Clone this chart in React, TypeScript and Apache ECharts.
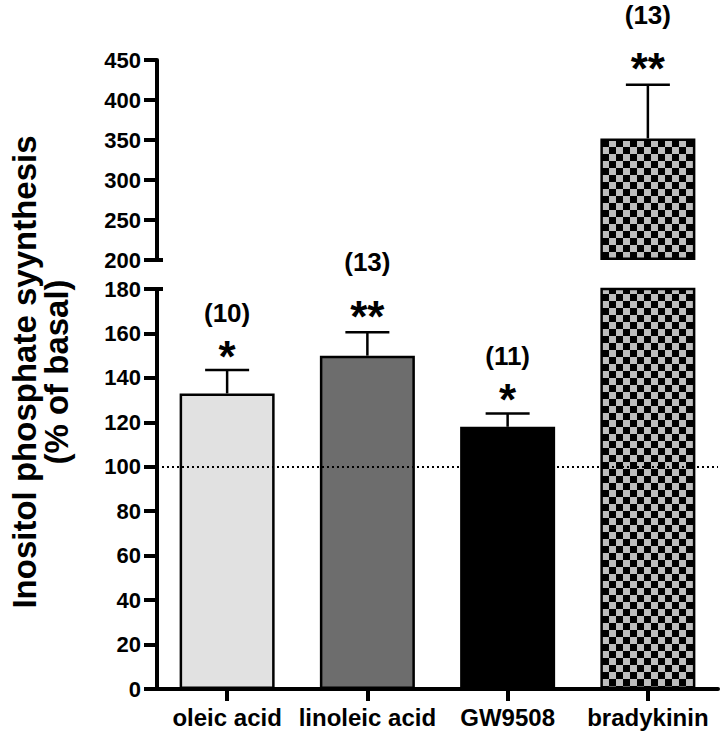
import React, { useEffect, useRef } from 'react';
import * as echarts from 'echarts';

const categories = ['oleic acid', 'linoleic acid', 'GW9508', 'bradykinin'];
const means = [133, 150, 118, 352];
const sems = [10.5, 10.5, 6, 67];
const nLabels = ['(10)', '(13)', '(11)', '(13)'];
const stars = ['*', '**', '*', '**'];
const lowerMin = 0;
const lowerMax = 180;
const lowerStep = 20;
const upperMin = 200;
const upperMax = 450;
const upperStep = 50;
const basal = 100;
const yTitle = 'Inositol phosphate syynthesis\n(% of basal)';

const FONT = '"Liberation Sans", Arial, Helvetica, sans-serif';

export default function App() {
  const ref = useRef<HTMLDivElement>(null);
  useEffect(() => {
    const chart = echarts.init(ref.current!, null, { renderer: 'svg' });
    const cv = document.createElement('canvas');
    cv.width = 14;
    cv.height = 14;
    const ctx = cv.getContext('2d')!;
    ctx.fillStyle = '#bdbdbd';
    ctx.fillRect(0, 0, 14, 14);
    ctx.fillStyle = '#000000';
    ctx.fillRect(0, 0, 7, 7);
    ctx.fillRect(7, 7, 7, 7);
    const checker: any = { image: cv, repeat: 'repeat' };
    const fills: any[] = ['#e1e1e1', '#6d6d6d', '#000000', checker];

    const barStyle = (i: number) => ({ color: fills[i], borderColor: '#000', borderWidth: 2.5 });

    const renderErr = (params: any, api: any) => {
      const i = api.value(0);
      const m = api.value(1);
      const e = api.value(2);
      const p0 = api.coord([i, m]);
      const p1 = api.coord([i, m + e]);
      const x = p0[0];
      const yTop = p1[1];
      const s = stars[i];
      const dbl = s.length > 1;
      return {
        type: 'group',
        children: [
          { type: 'line', shape: { x1: x, y1: p0[1], x2: x, y2: yTop }, style: { stroke: '#000', lineWidth: 2.5 } },
          { type: 'line', shape: { x1: x - 22, y1: yTop, x2: x + 22, y2: yTop }, style: { stroke: '#000', lineWidth: 2.5 } },
          {
            type: 'text', x, y: yTop - (dbl ? 16 : 14),
            style: { text: s, font: `bold 44px ${FONT}`, fill: '#000', align: 'center', verticalAlign: 'middle' },
          },
          {
            type: 'text', x, y: yTop - (dbl ? 70 : 57),
            style: { text: nLabels[i], font: `bold 26px ${FONT}`, fill: '#000', align: 'center', verticalAlign: 'middle' },
          },
        ],
      };
    };

    const axisCommon = {
      axisLine: { show: true, lineStyle: { color: '#000', width: 4 } },
      axisTick: { show: true, length: 13, lineStyle: { color: '#000', width: 4 } },
      axisLabel: { color: '#000', fontSize: 22, fontWeight: 'bold', fontFamily: FONT, margin: 16 },
      splitLine: { show: false },
    };

    chart.setOption({
      animation: false,
      backgroundColor: '#ffffff',
      grid: [
        { left: 157, width: 561, top: 289, height: 400 },
        { left: 157, width: 561, top: 60, height: 200 },
      ],
      xAxis: [
        {
          type: 'category', gridIndex: 0, data: categories,
          axisLine: { show: true, lineStyle: { color: '#000', width: 4 } },
          axisTick: { show: true, alignWithLabel: true, length: 12, lineStyle: { color: '#000', width: 4 } },
          axisLabel: { color: '#000', fontSize: 24, fontWeight: 'bold', fontFamily: FONT, margin: 16, interval: 0 },
        },
        { type: 'category', gridIndex: 1, data: categories, show: false },
      ],
      yAxis: [
        { type: 'value', gridIndex: 0, min: lowerMin, max: lowerMax, interval: lowerStep, ...axisCommon },
        { type: 'value', gridIndex: 1, min: upperMin, max: upperMax, interval: upperStep, ...axisCommon },
      ],
      series: [
        {
          type: 'line', xAxisIndex: 0, yAxisIndex: 0, data: [], z: 1,
          markLine: {
            silent: true, symbol: ['none', 'none'], label: { show: false },
            lineStyle: { color: '#000', width: 2, type: [2, 3] },
            data: [{ yAxis: basal }],
          },
        },
        {
          type: 'bar', xAxisIndex: 0, yAxisIndex: 0, barWidth: 95, z: 2,
          data: means.map((v, i) => ({ value: v, itemStyle: barStyle(i) })),
        },
        {
          type: 'bar', xAxisIndex: 1, yAxisIndex: 1, barWidth: 95, stack: 'up', z: 2,
          itemStyle: { color: 'transparent', borderWidth: 0 }, silent: true,
          data: means.map((v) => (v > lowerMax ? upperMin : '-')),
        },
        {
          type: 'bar', xAxisIndex: 1, yAxisIndex: 1, barWidth: 95, stack: 'up', z: 2, clip: false,
          data: means.map((v, i) => (v > lowerMax ? { value: v - upperMin, itemStyle: barStyle(i) } : '-')),
        },
        {
          type: 'custom', xAxisIndex: 0, yAxisIndex: 0, z: 3, clip: false,
          renderItem: renderErr,
          data: means.map((v, i) => [i, v, sems[i]]).filter((d) => d[1] <= lowerMax),
        },
        {
          type: 'custom', xAxisIndex: 1, yAxisIndex: 1, z: 3, clip: false,
          renderItem: renderErr,
          data: means.map((v, i) => [i, v, sems[i]]).filter((d) => d[1] > lowerMax),
        },
      ],
    });

    const axisX = chart.convertToPixel({ gridIndex: 0 }, [0, 0])[0] - 78;
    const yUpperBottom = chart.convertToPixel({ yAxisIndex: 1 }, upperMin) as number;
    const yLowerTop = chart.convertToPixel({ yAxisIndex: 0 }, lowerMax) as number;
    const gridLeft = 157;
    chart.setOption({
      graphic: [
        {
          type: 'text', x: 40, y: 372, rotation: Math.PI / 2,
          style: {
            text: yTitle, font: `bold 33px ${FONT}`, fill: '#000',
            align: 'center', verticalAlign: 'middle', lineHeight: 32,
          },
        },
        {
          type: 'line', shape: { x1: gridLeft - 2, y1: yUpperBottom, x2: gridLeft + 6, y2: yUpperBottom },
          style: { stroke: '#000', lineWidth: 4 },
        },
        {
          type: 'line', shape: { x1: gridLeft - 2, y1: yLowerTop, x2: gridLeft + 6, y2: yLowerTop },
          style: { stroke: '#000', lineWidth: 4 },
        },
      ],
    });
    void axisX;
    return () => chart.dispose();
  }, []);
  return <div ref={ref} style={{ position: 'fixed', left: 0, top: 0, width: 720, height: 732 }} />;
}
